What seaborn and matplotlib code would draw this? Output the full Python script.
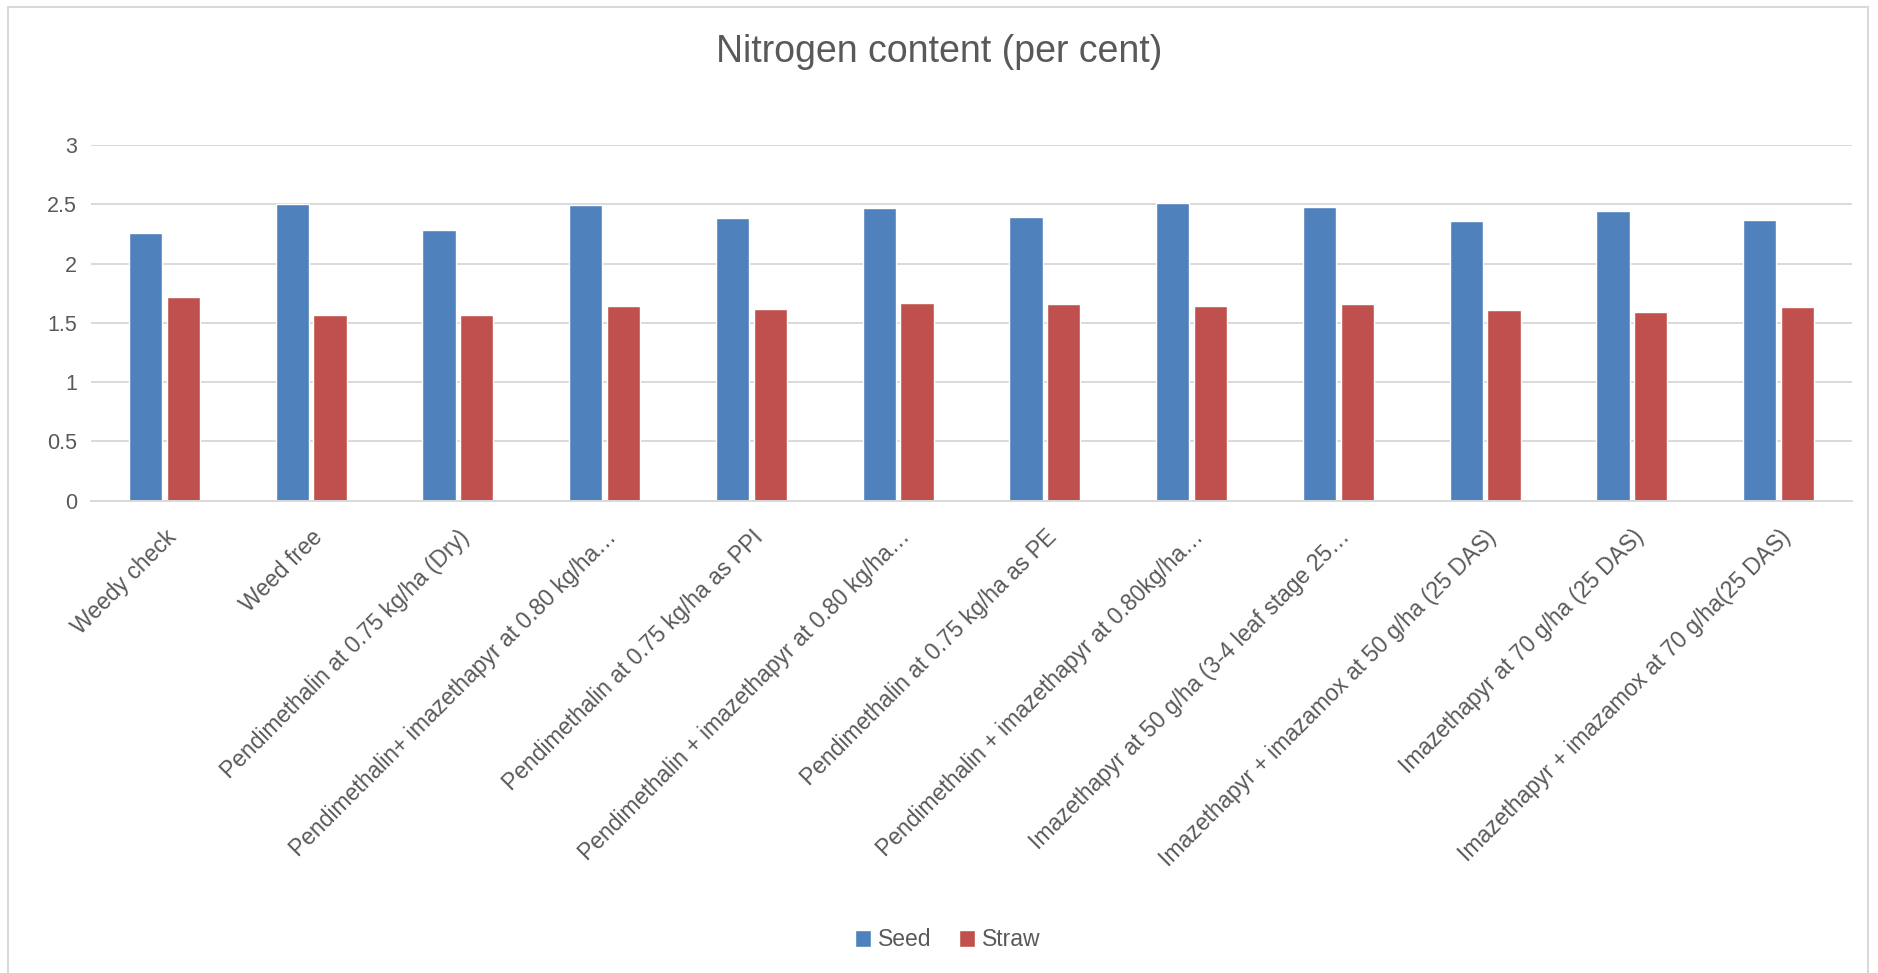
import matplotlib
matplotlib.use("Agg")
import matplotlib.pyplot as plt
from matplotlib.patches import Rectangle
import seaborn as sns
import pandas as pd

categories = [
    "Weedy check",
    "Weed free",
    "Pendimethalin at 0.75 kg/ha (Dry)",
    "Pendimethalin+ imazethapyr at 0.80 kg/ha…",
    "Pendimethalin at 0.75 kg/ha as PPI",
    "Pendimethalin + imazethapyr at 0.80 kg/ha…",
    "Pendimethalin at 0.75 kg/ha as PE",
    "Pendimethalin + imazethapyr at 0.80kg/ha…",
    "Imazethapyr at 50 g/ha (3-4 leaf stage 25…",
    "Imazethapyr + imazamox at 50 g/ha (25 DAS)",
    "Imazethapyr at 70 g/ha (25 DAS)",
    "Imazethapyr + imazamox at 70 g/ha(25 DAS)",
]
seed = [2.26, 2.50, 2.28, 2.49, 2.38, 2.47, 2.39, 2.51, 2.48, 2.36, 2.44, 2.37]
straw = [1.72, 1.57, 1.57, 1.64, 1.62, 1.67, 1.66, 1.64, 1.66, 1.61, 1.59, 1.63]
series_names = ["Seed", "Straw"]
yticks = [0, 0.5, 1, 1.5, 2, 2.5, 3]
title = "Nitrogen content (per cent)"

df = pd.DataFrame({
    "Treatment": categories * 2,
    "Series": [series_names[0]] * len(seed) + [series_names[1]] * len(straw),
    "Value": seed + straw,
})

sns.set_theme(style="white")
plt.rcParams["font.family"] = ["Liberation Sans", "DejaVu Sans"]
text_color = "#595959"
grid_color = "#d9d9d9"

fig = plt.figure(figsize=(18.78, 9.73), dpi=100)
ax = fig.add_axes([91 / 1878, 1 - 500.6 / 973, (1852 - 91) / 1878, (500.6 - 145) / 973])

sns.barplot(data=df, x="Treatment", y="Value", hue="Series",
            palette=["#4F81BD", "#C0504D"], width=0.514, gap=0.12,
            order=categories, hue_order=series_names, ax=ax, legend=True,
            saturation=1)

ax.set_ylim(0, 3)
ax.set_yticks(yticks)
ax.set_yticklabels([f"{t:g}" for t in yticks], fontsize=15.5, color=text_color)
ax.set_xlim(-0.5, len(categories) - 0.5)
ax.set_xlabel("")
ax.set_ylabel("")
ax.yaxis.grid(True, color=grid_color, linewidth=1.4)
ax.set_axisbelow(True)
for s in ["top", "right", "left"]:
    ax.spines[s].set_visible(False)
ax.spines["bottom"].set_color(grid_color)
ax.spines["bottom"].set_linewidth(1.4)
ax.tick_params(axis="both", length=0)
ax.tick_params(axis="y", pad=10)
ax.tick_params(axis="x", pad=18)
plt.setp(ax.get_xticklabels(), rotation=45, ha="right", rotation_mode="anchor",
         fontsize=16.5, color=text_color)

leg = ax.legend(loc="center", bbox_to_anchor=(948 / 1878, 1 - 940 / 973),
                bbox_transform=fig.transFigure, ncol=2, frameon=False,
                fontsize=16.5, handlelength=0.7, handleheight=0.7,
                handletextpad=0.3, columnspacing=1.2)
for t in leg.get_texts():
    t.set_color(text_color)

fig.text(0.5, 1 - 52 / 973, title, ha="center", va="center",
         fontsize=27, color=text_color)

fig.patches.append(Rectangle((8 / 1878, -0.02), (1868 - 8) / 1878, 1.02 - 7 / 973,
                             transform=fig.transFigure, fill=False,
                             edgecolor=grid_color, linewidth=1.5))

fig.savefig("out.png", dpi=100, facecolor="white")
